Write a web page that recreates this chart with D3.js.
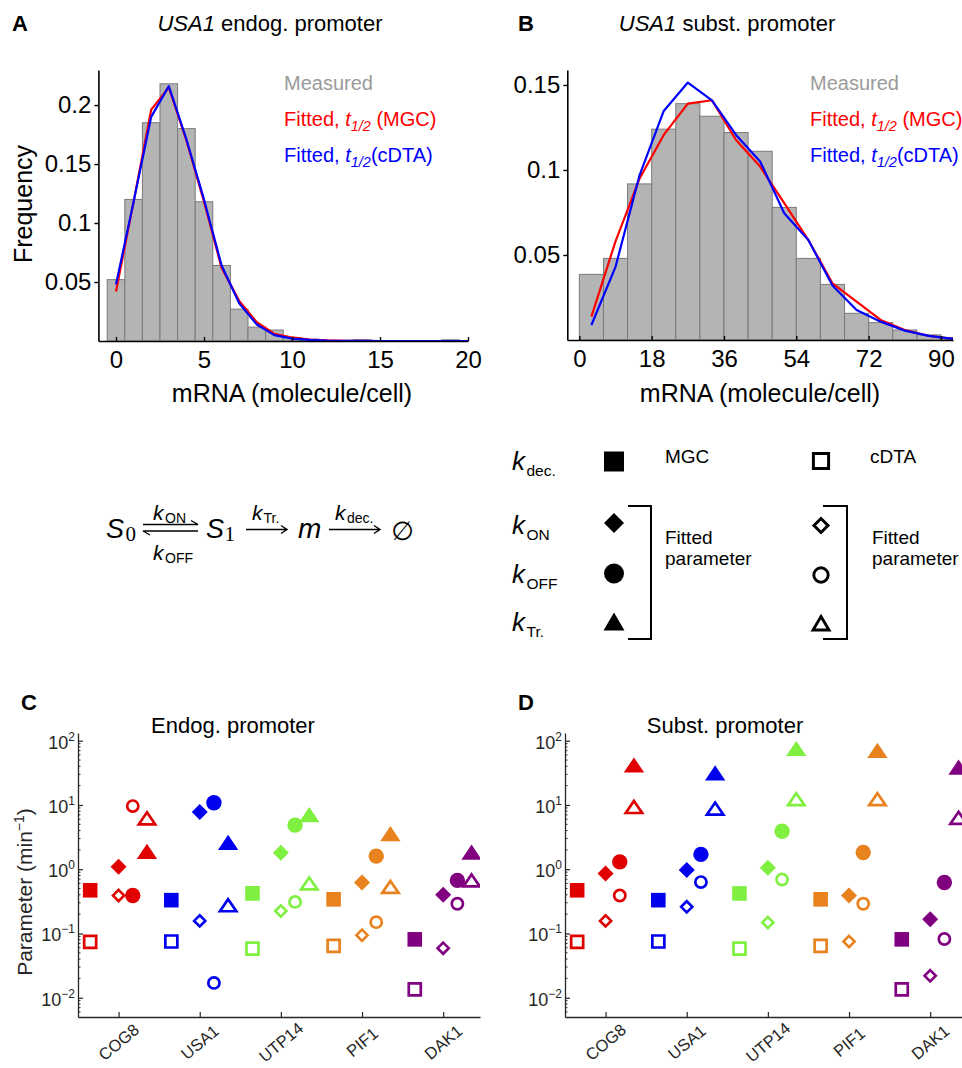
<!DOCTYPE html>
<html><head><meta charset="utf-8">
<script src="https://cdn.jsdelivr.net/npm/d3@7"></script>
<style>body{margin:0;background:#fff}</style>
</head><body>
<svg id="c" width="962" height="1068" xmlns="http://www.w3.org/2000/svg"></svg>
<script>
// ================= DATA =================
// Panel A: USA1 endogenous promoter histogram (bin centres, width 1)
const histA_bins = [0,1,2,3,4,5,6,7,8,9,10,11,12,13,14,15,16,17,18,19];
const histA_freq = [0.052,0.12,0.185,0.218,0.18,0.118,0.064,0.027,0.0118,0.0093,0.003,0.0015,0.0005,0.0003,0.001,0.0003,0,0,0,0.001];
const fitA_x     = [0,1,2,3,4,5,6,7,8,9,10,11,12,13,14,15,16,17,18,19,20];
const fitA_MGC   = [0.042,0.118,0.196,0.215,0.17,0.118,0.062,0.034,0.016,0.006,0.003,0.0012,0.0005,0.0002,0.0001,0,0,0,0,0,0];
const fitA_cDTA  = [0.048,0.118,0.19,0.216,0.171,0.12,0.064,0.032,0.014,0.005,0.002,0.001,0.0004,0.0002,0.0001,0,0,0,0,0,0];
const histA_xTicks = [0,5,10,15,20];
const histA_yTicks = [0.05,0.1,0.15,0.2];

// Panel B: USA1 substituted promoter histogram (bin centres, width 6)
const histB_bins = [3,9,15,21,27,33,39,45,51,57,63,69,75,81,87,93];
const histB_freq = [0.0386,0.048,0.0918,0.124,0.139,0.1316,0.122,0.111,0.078,0.048,0.0327,0.0157,0.0102,0.0059,0.003,0.0015];
const fitB_x     = [3,9,15,21,27,33,39,45,51,57,63,69,75,81,87,93];
const fitB_MGC   = [0.0137,0.058,0.095,0.1206,0.139,0.141,0.1176,0.102,0.0805,0.0588,0.0333,0.0225,0.0118,0.0059,0.0024,0.0006];
const fitB_cDTA  = [0.0088,0.043,0.097,0.1347,0.1514,0.141,0.1206,0.105,0.0745,0.0588,0.032,0.0176,0.0108,0.0055,0.0024,0.0006];
const histB_xTicks = [0,18,36,54,72,90];
const histB_yTicks = [0.05,0.1,0.15];

// Panels C & D: parameters (min^-1)
const genes = ["COG8","USA1","UTP14","PIF1","DAK1"];
const endo_kdec_MGC  = [0.47,0.33,0.42,0.34,0.081];
const endo_kdec_cDTA = [0.074,0.075,0.058,0.064,0.0135];
const endo_kON_MGC   = [1.09,7.8,1.8,0.62,0.40];
const endo_kON_cDTA  = [0.39,0.157,0.224,0.094,0.059];
const endo_kOFF_MGC  = [0.39,10.8,4.85,1.6,0.67];
const endo_kOFF_cDTA = [9.6,0.017,0.31,0.15,0.29];
const endo_kTr_MGC   = [1.85,2.57,6.9,3.5,1.8];
const endo_kTr_cDTA  = [6.2,0.275,0.6,0.53,0.67];

const subst_kdec_MGC  = [0.47,0.33,0.42,0.34,0.081];
const subst_kdec_cDTA = [0.074,0.075,0.058,0.064,0.0135];
const subst_kON_MGC   = [0.86,0.97,1.05,0.39,0.166];
const subst_kON_cDTA  = [0.157,0.26,0.148,0.075,0.022];
const subst_kOFF_MGC  = [1.3,1.7,3.9,1.82,0.62];
const subst_kOFF_cDTA = [0.39,0.63,0.69,0.29,0.082];
const subst_kTr_MGC   = [41,31,74,69,38];
const subst_kTr_cDTA  = [9.3,8.8,12.3,12.3,6.3];

const logMajorTicks = [0.01,0.1,1,10,100];
const logMajorExp   = ["\u22122","\u22121","0","1","2"];

// ================= STYLE =================
const FONT = '"Liberation Sans", Arial, Helvetica, sans-serif';
const geneColors = ["#e00000","#0000ee","#80f040","#e8821e","#800080"];
const svg = d3.select("#c");
svg.append("rect").attr("width",962).attr("height",1068).attr("fill","#fff");
const defs = svg.append("defs");

function txt(g, x, y, size, opts={}) {
  const t = g.append("text").attr("x",x).attr("y",y).attr("font-size",size)
    .attr("font-family", opts.family || FONT).attr("fill", opts.fill || "#000");
  if (opts.anchor) t.attr("text-anchor", opts.anchor);
  if (opts.weight) t.attr("font-weight", opts.weight);
  if (opts.italic) t.attr("font-style","italic");
  if (opts.transform) t.attr("transform", opts.transform);
  return t;
}

// ================= HISTOGRAM PANELS =================
function histPanel(cfg) {
  const g = svg.append("g");
  const x = d3.scaleLinear().domain(cfg.xDomain).range(cfg.xRange);
  const y = d3.scaleLinear().domain(cfg.yDomain).range(cfg.yRange);
  const cid = "clip" + cfg.id;
  defs.append("clipPath").attr("id",cid).append("rect")
    .attr("x",cfg.xRange[0]).attr("y",cfg.yRange[1]-20)
    .attr("width",cfg.xRange[1]-cfg.xRange[0]).attr("height",cfg.yRange[0]-cfg.yRange[1]+20);
  const plot = g.append("g").attr("clip-path",`url(#${cid})`);
  plot.selectAll("rect.bar").data(cfg.bins.map((b,i)=>({b, f: cfg.freq[i]})))
    .join("rect").attr("class","bar")
    .attr("x", d => x(d.b - cfg.binW/2))
    .attr("width", d => x(d.b + cfg.binW/2) - x(d.b - cfg.binW/2))
    .attr("y", d => y(d.f))
    .attr("height", d => y(0) - y(d.f))
    .attr("fill","#b4b4b4").attr("stroke","#7a7a7a").attr("stroke-width",1);
  const line = d3.line().x((d,i)=>x(cfg.fitX[i])).y(d=>y(d));
  plot.append("path").datum(cfg.fitMGC).attr("d",line).attr("fill","none")
    .attr("stroke","#ff0000").attr("stroke-width",2.2).attr("stroke-linejoin","round");
  plot.append("path").datum(cfg.fitCDTA).attr("d",line).attr("fill","none")
    .attr("stroke","#0000ff").attr("stroke-width",2.2).attr("stroke-linejoin","round");

  const ya = g.append("g").attr("transform",`translate(${cfg.xRange[0]},0)`)
    .call(d3.axisLeft(y).tickValues(cfg.yTicks).tickSizeInner(4).tickSizeOuter(0).tickPadding(3).tickFormat(d=>String(d)));
  const xa = g.append("g").attr("transform",`translate(0,${cfg.yRange[0]})`)
    .call(d3.axisBottom(x).tickValues(cfg.xTicks).tickSizeInner(-4).tickSizeOuter(0).tickFormat(d=>String(d)));
  [ya, xa].forEach(a => {
    a.attr("font-family",FONT).attr("font-size",24);
    a.select(".domain").attr("stroke","#000").attr("stroke-width",1.6);
    a.selectAll(".tick line").attr("stroke","#000").attr("stroke-width",1.4);
    a.selectAll(".tick text").attr("fill","#000");
  });
  xa.selectAll(".tick text").attr("y",27).attr("dy",0);

  txt(g, cfg.xLabelX, 402, 25, {anchor:"middle"}).text("mRNA (molecule/cell)");
  const t = txt(g, cfg.titleX, 31, 22, {anchor:"middle"});
  t.append("tspan").attr("font-style","italic").text("USA1");
  t.append("tspan").text(cfg.titleRest);
  txt(g, cfg.letterX, 31, 22, {weight:"bold"}).text(cfg.letter);
  txt(g, cfg.legX, 90, 20, {fill:"#9a9a9a"}).text("Measured");
  const l1 = txt(g, cfg.legX, 126, 20, {fill:"#ff0000"});
  l1.append("tspan").text("Fitted, ");
  l1.append("tspan").attr("font-style","italic").text("t");
  l1.append("tspan").attr("font-style","italic").attr("font-size",14.5).attr("dy",5).text("1/2");
  l1.append("tspan").attr("dy",-5).text("\u00a0(MGC)");
  const l2 = txt(g, cfg.legX, 162, 20, {fill:"#0000ff"});
  l2.append("tspan").text("Fitted, ");
  l2.append("tspan").attr("font-style","italic").text("t");
  l2.append("tspan").attr("font-style","italic").attr("font-size",14.5).attr("dy",5).text("1/2");
  l2.append("tspan").attr("dy",-5).text("(cDTA)");
  return g;
}

const gA = histPanel({id:"A", xDomain:[-1,20], xRange:[98.4,468], yDomain:[0,0.2297], yRange:[341,70],
  bins:histA_bins, freq:histA_freq, binW:1, fitX:fitA_x, fitMGC:fitA_MGC, fitCDTA:fitA_cDTA,
  xTicks:histA_xTicks, yTicks:histA_yTicks, xLabelX:292, titleX:270, titleRest:" endog. promoter",
  letter:"A", letterX:12, legX:284});
txt(gA, 32, 204, 25, {anchor:"middle", transform:"rotate(-90,32,204)"}).text("Frequency");

histPanel({id:"B", xDomain:[-3,93], xRange:[567.3,953], yDomain:[0,0.1588], yRange:[340,70],
  bins:histB_bins, freq:histB_freq, binW:6, fitX:fitB_x, fitMGC:fitB_MGC, fitCDTA:fitB_cDTA,
  xTicks:histB_xTicks, yTicks:histB_yTicks, xLabelX:760, titleX:727, titleRest:" subst. promoter",
  letter:"B", letterX:518, legX:810});

// ================= REACTION SCHEME =================
const gs = svg.append("g");
const SERIF = '"Liberation Serif", "Times New Roman", serif';
txt(gs,106,538,27,{italic:true}).text("S");
txt(gs,125.5,541,21,{family:SERIF}).text("0");
txt(gs,206,538,27,{italic:true}).text("S");
txt(gs,224.5,541,21,{family:SERIF}).text("1");
txt(gs,298,538,28,{italic:true}).text("m");
txt(gs,402.5,539.5,26,{anchor:"middle", family:'"DejaVu Sans", sans-serif'}).text("\u2205");
function kLabel(g, x, y, sub, kSize, subSize, subX, dy) {
  txt(g, x, y, kSize, {italic:true}).text("k");
  txt(g, subX, y+dy, subSize).text(sub);
}
kLabel(gs,153,520,"ON",21,14,165,2.5);
kLabel(gs,153,560,"OFF",21,14,165,2.5);
kLabel(gs,252,520,"Tr.",21,14,263.5,2.5);
kLabel(gs,335,520,"dec.",21,14,347,2.5);
const ar = gs.append("g").attr("stroke","#000").attr("stroke-width",1.4).attr("fill","none");
ar.append("path").attr("d","M143,524.5H198M198,524.5L191,520.5");
ar.append("path").attr("d","M143,531H198M143,531L150,535");
ar.append("path").attr("d","M246,529.5H287M281,525.5L287,529.5L281,533.5");
ar.append("path").attr("d","M329,529.5H380M374,525.5L380,529.5L374,533.5");

// ================= MARKER HELPERS =================
function sqPath(cx,cy,h){return `M${cx-h},${cy-h}h${2*h}v${2*h}h${-2*h}Z`;}
function dmPath(cx,cy,h){return `M${cx},${cy-h}L${cx+h},${cy}L${cx},${cy+h}L${cx-h},${cy}Z`;}
function trPath(cx,cy,w,up,dn){return `M${cx},${cy-up}L${cx+w},${cy+dn}L${cx-w},${cy+dn}Z`;}
function drawMarker(g, shape, open, cx, cy, color, sz) {
  let el;
  const s = sz[shape][open?1:0];
  if (shape==="circle") el = g.append("circle").attr("cx",cx).attr("cy",cy).attr("r",s.r);
  else {
    let d;
    if (shape==="square") d = sqPath(cx,cy,s.h);
    else if (shape==="diamond") d = dmPath(cx,cy,s.h);
    else d = trPath(cx,cy,s.w,s.up,s.dn);
    el = g.append("path").attr("d",d);
  }
  if (open) el.attr("fill","#fff").attr("stroke",color).attr("stroke-width",s.sw).attr("stroke-linejoin","miter");
  else el.attr("fill",color).attr("stroke","none");
  return el;
}
const sizeSmall = {
  square:[{h:7.3},{h:6.0,sw:2.7}],
  diamond:[{h:8},{h:5.6,sw:2.6}],
  circle:[{r:7.7},{r:5.6,sw:2.7}],
  triangle:[{w:10.2,up:8.2,dn:7},{w:8.2,up:6,dn:6,sw:2.7}]
};
const sizeLegend = {
  square:[{h:10},{h:7.6,sw:3}],
  diamond:[{h:10},{h:7,sw:3}],
  circle:[{r:10},{r:7.2,sw:2.9}],
  triangle:[{w:10.5,up:9.5,dn:8.5},{w:8,up:7,dn:6.5,sw:2.9}]
};

// ================= LEGEND PANEL =================
const gl = svg.append("g");
kLabel(gl,512,470,"dec.",26,15.5,526.5,6);
kLabel(gl,512,534,"ON",26,15.5,526.5,6);
kLabel(gl,512,583,"OFF",26,15.5,526.5,6);
kLabel(gl,512,631,"Tr.",26,15.5,526.5,6);
drawMarker(gl,"square",false,614,461.5,"#000",sizeLegend);
drawMarker(gl,"diamond",false,614,523,"#000",sizeLegend);
drawMarker(gl,"circle",false,614,573.5,"#000",sizeLegend);
drawMarker(gl,"triangle",false,614,622,"#000",sizeLegend);
drawMarker(gl,"square",true,821,461,"#000",sizeLegend);
drawMarker(gl,"diamond",true,821,525.5,"#000",sizeLegend);
drawMarker(gl,"circle",true,821,575,"#000",sizeLegend);
drawMarker(gl,"triangle",true,821,623.5,"#000",sizeLegend);
txt(gl,665,463,19).text("MGC");
txt(gl,870,463,19).text("cDTA");
txt(gl,665,544,19).text("Fitted");
txt(gl,665,565,19).text("parameter");
txt(gl,872,544,19).text("Fitted");
txt(gl,872,565,19).text("parameter");
const br = gl.append("g").attr("stroke","#000").attr("stroke-width",2).attr("fill","none");
br.append("path").attr("d","M628,506H651V639H628");
br.append("path").attr("d","M823,506H847V639H823");

// ================= PARAMETER PANELS =================
const paramOffsets = {kdec:-0.35, kON:0, kOFF:0.175, kTr:0.35};
const shapeOf = {kdec:"square", kON:"diamond", kOFF:"circle", kTr:"triangle"};

function paramPanel(cfg) {
  const g = svg.append("g");
  const x = d3.scaleLinear().domain([0.5, 0.5 + (cfg.xRight-cfg.xLeft)/81.15]).range([cfg.xLeft, cfg.xRight]);
  const y = d3.scaleLog().domain([Math.pow(10,-2.3), Math.pow(10,2.12)]).range([1017,733]);
  const cid = "clip"+cfg.id;
  defs.append("clipPath").attr("id",cid).append("rect")
    .attr("x",cfg.xLeft).attr("y",700).attr("width",cfg.xRight-cfg.xLeft).attr("height",330);
  const axisColor = "#262626";
  const ya = g.append("g").attr("transform",`translate(${cfg.xLeft},0)`)
    .call(d3.axisRight(y).tickValues(logMajorTicks).tickSizeInner(5).tickSizeOuter(0).tickFormat(""));
  ya.select(".domain").attr("stroke",axisColor).attr("stroke-width",1.3);
  ya.selectAll(".tick line").attr("stroke",axisColor).attr("stroke-width",1.2);
  const minor = [];
  [-3,-2,-1,0,1,2].forEach(k => [2,3,4,5,6,7,8,9].forEach(m => {
    const v = m*Math.pow(10,k);
    if (v >= y.domain()[0] && v <= y.domain()[1]) minor.push(v);
  }));
  g.append("g").selectAll("line").data(minor).join("line")
    .attr("x1",cfg.xLeft).attr("x2",cfg.xLeft+2.5).attr("y1",d=>y(d)).attr("y2",d=>y(d))
    .attr("stroke",axisColor).attr("stroke-width",1);
  logMajorTicks.forEach((v,i) => {
    const t = txt(g, cfg.xLeft-3, y(v)+8, 18, {anchor:"end", fill:axisColor});
    t.append("tspan").text("10");
    t.append("tspan").attr("font-size",12).attr("dy",-8).text(logMajorExp[i]);
  });
  const xa = g.append("g").attr("transform","translate(0,1017)")
    .call(d3.axisBottom(x).tickValues(genes.map((d,i)=>i+1)).tickSizeInner(-5).tickSizeOuter(0).tickFormat(""));
  xa.select(".domain").attr("stroke",axisColor).attr("stroke-width",1.3);
  xa.selectAll(".tick line").attr("stroke",axisColor).attr("stroke-width",1.2);
  genes.forEach((gn,i) => {
    txt(g, 0, 0, 16.5, {anchor:"middle", fill:axisColor, transform:`translate(${x(i+1)},1042) rotate(-40)`})
      .attr("dominant-baseline","central").text(gn);
  });
  const plot = g.append("g").attr("clip-path",`url(#${cid})`);
  genes.forEach((gn,i) => {
    ["kdec","kON","kOFF","kTr"].forEach(p => {
      const cx = x(i+1+paramOffsets[p]);
      drawMarker(plot, shapeOf[p], false, cx, y(cfg.data[p][0][i]), geneColors[i], sizeSmall);
      drawMarker(plot, shapeOf[p], true, cx, y(cfg.data[p][1][i]), geneColors[i], sizeSmall);
    });
  });
  txt(g, cfg.titleX, 733, 22, {anchor:"middle"}).text(cfg.title);
  txt(g, cfg.letterX, 710, 22, {weight:"bold"}).text(cfg.letter);
  return g;
}

const gC = paramPanel({id:"C", xLeft:78, xRight:480, titleX:233, title:"Endog. promoter", letter:"C", letterX:21,
  data:{kdec:[endo_kdec_MGC,endo_kdec_cDTA], kON:[endo_kON_MGC,endo_kON_cDTA],
        kOFF:[endo_kOFF_MGC,endo_kOFF_cDTA], kTr:[endo_kTr_MGC,endo_kTr_cDTA]}});
const yl = txt(gC, 32, 892, 21, {anchor:"middle", fill:"#262626", transform:"rotate(-90,32,892)"});
yl.append("tspan").text("Parameter (min");
yl.append("tspan").attr("font-size",14).attr("dy",-8).text("\u22121");
yl.append("tspan").attr("dy",8).text(")");

paramPanel({id:"D", xLeft:565, xRight:962, titleX:725, title:"Subst. promoter", letter:"D", letterX:518,
  data:{kdec:[subst_kdec_MGC,subst_kdec_cDTA], kON:[subst_kON_MGC,subst_kON_cDTA],
        kOFF:[subst_kOFF_MGC,subst_kOFF_cDTA], kTr:[subst_kTr_MGC,subst_kTr_cDTA]}});
</script>
</body></html>
